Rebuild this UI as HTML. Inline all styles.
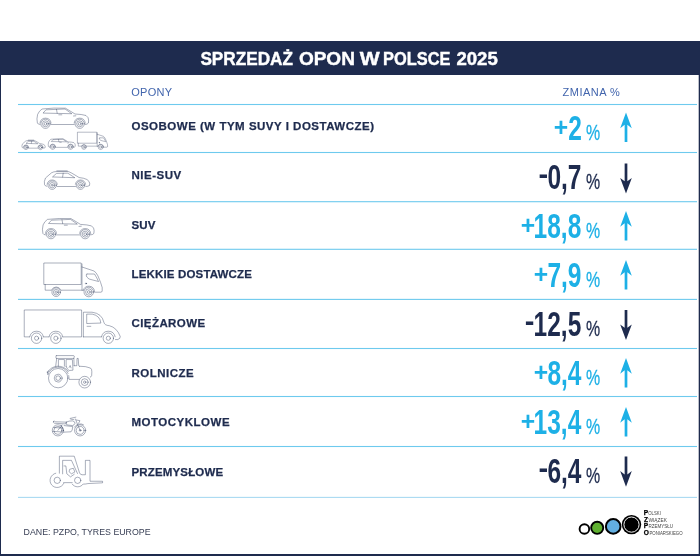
<!DOCTYPE html>
<html lang="pl">
<head>
<meta charset="utf-8">
<title>Sprzedaż opon w Polsce 2025</title>
<style>
html,body{margin:0;padding:0;background:#fff;}
body{width:700px;height:556px;position:relative;overflow:hidden;font-family:"Liberation Sans",sans-serif;}
#frame{position:absolute;left:0;top:41px;width:700px;height:515px;box-sizing:border-box;border-left:1px solid #1e2b4e;border-right:1px solid #1e2b4e;box-shadow:inset -1px 0 0 0 rgba(30,43,78,0.3);border-bottom:2px solid #1e2b4e;}
#bar{position:absolute;left:0;top:41px;width:700px;height:34px;background:#1e2b4e;}
#title{position:absolute;left:0;top:41px;font-family:"Liberation Sans",sans-serif;font-weight:bold;font-size:18.2px;fill:#fff;stroke:#fff;stroke-width:0.4px;}
.hd{position:absolute;top:84.5px;font-size:11px;line-height:14px;color:#4265ad;white-space:nowrap;}
.row{position:absolute;left:0;width:700px;height:49px;}
.lb{position:absolute;left:131.5px;top:15px;font-weight:bold;font-size:11.5px;line-height:14px;color:#1e2b4e;letter-spacing:0.5px;white-space:nowrap;-webkit-text-stroke:0.25px #1e2b4e;}
.num{position:absolute;right:118.6px;top:4.0px;font-weight:bold;font-size:35.6px;line-height:40px;white-space:nowrap;transform:scaleX(0.688);transform-origin:100% 50%;}
.sg{position:absolute;top:4px;font-weight:bold;line-height:40px;white-space:nowrap;transform-origin:100% 50%;}
.sg.p{font-size:26px;transform:scaleX(0.95);margin-top:-1.2px;margin-right:-0.2px}
.sg.m{font-size:29px;transform:scaleX(1.0);margin-top:-2.9px;margin-right:-0.5px}
.pc{position:absolute;left:586.2px;top:16.6px;font-size:22.6px;line-height:24px;white-space:nowrap;transform:scaleX(0.705);transform-origin:0 50%;-webkit-text-stroke:0.3px currentColor;}
.up{color:#1db0e6;}
.dn{color:#1e2b4e;}
.ar{position:absolute;left:615.7px;top:0;width:20px;height:49px;overflow:visible;}
#src{position:absolute;left:23.6px;top:526px;font-size:8.8px;line-height:12px;color:#394056;white-space:nowrap;}
</style>
</head>
<body>
<div id="frame"></div>
<div id="bar"></div>
<svg id="title" width="700" height="34" viewBox="0 41 700 34"><text y="64.8"><tspan x="200.4" textLength="92.6" lengthAdjust="spacingAndGlyphs">SPRZEDAŻ</tspan> <tspan x="298.9" textLength="56.0" lengthAdjust="spacingAndGlyphs">OPON</tspan> <tspan x="359.7" textLength="19.9" lengthAdjust="spacingAndGlyphs">W</tspan> <tspan x="383.1" textLength="67.4" lengthAdjust="spacingAndGlyphs">POLSCE</tspan> <tspan x="456.4" textLength="41.4" lengthAdjust="spacingAndGlyphs">2025</tspan></text></svg>
<div class="hd" style="left:131.2px;letter-spacing:0.3px">OPONY</div>
<div class="hd" style="left:562.6px;letter-spacing:0.5px">ZMIANA %</div>
<svg id="lines" width="700" height="556" viewBox="0 0 700 556" style="position:absolute;left:0;top:0"><rect x="18" y="103.95" width="679" height="1.1" fill="#6ecaee"/><rect x="18" y="151.95" width="679" height="1.1" fill="#6ecaee"/><rect x="18" y="201.15" width="679" height="1.1" fill="#6ecaee"/><rect x="18" y="248.75" width="679" height="1.1" fill="#6ecaee"/><rect x="18" y="298.85" width="679" height="1.1" fill="#6ecaee"/><rect x="18" y="347.95" width="679" height="1.1" fill="#6ecaee"/><rect x="18" y="395.95" width="679" height="1.1" fill="#6ecaee"/><rect x="18" y="445.95" width="679" height="1.1" fill="#6ecaee"/><rect x="18" y="496.85" width="679" height="1.1" fill="#a9daf2"/></svg>
<div class="row" style="top:104.0px"><div class="lb" style="top:15.0px;letter-spacing:0.5px">OSOBOWE (W TYM SUVY I DOSTAWCZE)</div><div class="sg p up" style="right:132.4px">+</div><div class="num up">2</div><div class="pc up">%</div><svg class="ar" viewBox="0 0 20 49"><path transform="translate(0 0)" fill="#1db0e6" d="M10 8.4 L15.8 24.2 L11.35 20.8 L11.35 38.0 L8.65 38.0 L8.65 20.8 L4.2 24.2 Z"/></svg></div>
<div class="row" style="top:153.0px"><div class="lb" style="top:15.0px;letter-spacing:0.5px">NIE-SUV</div><div class="sg m dn" style="right:152.3px">-</div><div class="num dn">0,7</div><div class="pc dn">%</div><svg class="ar" viewBox="0 0 20 49"><path transform="translate(0 0)" fill="#1e2b4e" d="M10 40.5 L15.8 24.9 L11.35 28.2 L11.35 10.4 L8.65 10.4 L8.65 28.2 L4.2 24.9 Z"/></svg></div>
<div class="row" style="top:202.0px"><div class="lb" style="top:15.6px;letter-spacing:0.1px">SUV</div><div class="sg p up" style="right:165.3px">+</div><div class="num up">18,8</div><div class="pc up">%</div><svg class="ar" viewBox="0 0 20 49"><path transform="translate(0 0.55)" fill="#1db0e6" d="M10 8.4 L15.8 24.2 L11.35 20.8 L11.35 38.0 L8.65 38.0 L8.65 20.8 L4.2 24.2 Z"/></svg></div>
<div class="row" style="top:251.0px"><div class="lb" style="top:16.0px;letter-spacing:0.16px">LEKKIE DOSTAWCZE</div><div class="sg p up" style="right:151.6px">+</div><div class="num up">7,9</div><div class="pc up">%</div><svg class="ar" viewBox="0 0 20 49"><path transform="translate(0 0.55)" fill="#1db0e6" d="M10 8.4 L15.8 24.2 L11.35 20.8 L11.35 38.0 L8.65 38.0 L8.65 20.8 L4.2 24.2 Z"/></svg></div>
<div class="row" style="top:300.0px"><div class="lb" style="top:16.3px;letter-spacing:0.42px">CIĘŻAROWE</div><div class="sg m dn" style="right:166.0px">-</div><div class="num dn">12,5</div><div class="pc dn">%</div><svg class="ar" viewBox="0 0 20 49"><path transform="translate(0 -0.4)" fill="#1e2b4e" d="M10 40.5 L15.8 24.9 L11.35 28.2 L11.35 10.4 L8.65 10.4 L8.65 28.2 L4.2 24.9 Z"/></svg></div>
<div class="row" style="top:349.0px"><div class="lb" style="top:17.0px;letter-spacing:0.48px">ROLNICZE</div><div class="sg p up" style="right:151.6px">+</div><div class="num up">8,4</div><div class="pc up">%</div><svg class="ar" viewBox="0 0 20 49"><path transform="translate(0 0.55)" fill="#1db0e6" d="M10 8.4 L15.8 24.2 L11.35 20.8 L11.35 38.0 L8.65 38.0 L8.65 20.8 L4.2 24.2 Z"/></svg></div>
<div class="row" style="top:398.0px"><div class="lb" style="top:17.0px;letter-spacing:0.5px">MOTOCYKLOWE</div><div class="sg p up" style="right:165.3px">+</div><div class="num up">13,4</div><div class="pc up">%</div><svg class="ar" viewBox="0 0 20 49"><path transform="translate(0 0.55)" fill="#1db0e6" d="M10 8.4 L15.8 24.2 L11.35 20.8 L11.35 38.0 L8.65 38.0 L8.65 20.8 L4.2 24.2 Z"/></svg></div>
<div class="row" style="top:447.0px"><div class="lb" style="top:17.8px;letter-spacing:0.15px">PRZEMYSŁOWE</div><div class="sg m dn" style="right:152.3px">-</div><div class="num dn">6,4</div><div class="pc dn">%</div><svg class="ar" viewBox="0 0 20 49"><path transform="translate(0 -0.8)" fill="#1e2b4e" d="M10 40.5 L15.8 24.9 L11.35 28.2 L11.35 10.4 L8.65 10.4 L8.65 28.2 L4.2 24.9 Z"/></svg></div>
<svg id="icons" width="700" height="556" viewBox="0 0 700 556" style="position:absolute;left:0;top:0" fill="none" stroke="#1e2b4e" stroke-width="0.38" stroke-linecap="round" stroke-linejoin="round"><path d="M40.00 124.50Q37.80 124.30 37.40 123.00Q36.40 119.00 37.60 114.50Q39.00 111.00 42.00 109.00Q54.00 107.60 65.50 108.20L75.00 114.00Q82.00 114.30 86.00 115.50Q88.80 117.50 88.60 120.00L88.40 123.00Q87.50 124.40 85.20 124.50"/><path d="M51.00 124.50L74.20 124.50"/><path d="M39.95 123.02A5.60 5.60 0 0 1 51.05 123.02"/><path d="M74.15 123.02A5.60 5.60 0 0 1 85.25 123.02"/><circle cx="45.50" cy="123.80" r="4.60"/><circle cx="45.50" cy="123.80" r="3.00"/><circle cx="45.50" cy="123.80" r="1.40"/><circle cx="79.70" cy="123.80" r="4.60"/><circle cx="79.70" cy="123.80" r="3.00"/><circle cx="79.70" cy="123.80" r="1.40"/><path d="M43.30 112.80L46.00 109.80L65.00 109.00L71.50 113.50Z"/><path d="M56.50 109.40L57.20 113.20"/><path d="M58.80 114.80L61.80 114.80"/><path d="M73.50 116.00L75.80 115.80"/><path d="M45.50 234.90Q43.30 234.70 42.90 233.40Q41.90 229.40 43.10 224.90Q44.50 221.40 47.50 219.40Q59.50 218.00 71.00 218.60L80.50 224.40Q87.50 224.70 91.50 225.90Q94.30 227.90 94.10 230.40L93.90 233.40Q93.00 234.80 90.70 234.90"/><path d="M56.50 234.90L79.70 234.90"/><path d="M45.45 233.42A5.60 5.60 0 0 1 56.55 233.42"/><path d="M79.65 233.42A5.60 5.60 0 0 1 90.75 233.42"/><circle cx="51.00" cy="234.20" r="4.60"/><circle cx="51.00" cy="234.20" r="3.00"/><circle cx="51.00" cy="234.20" r="1.40"/><circle cx="85.20" cy="234.20" r="4.60"/><circle cx="85.20" cy="234.20" r="3.00"/><circle cx="85.20" cy="234.20" r="1.40"/><path d="M48.80 223.20L51.50 220.20L70.50 219.40L77.00 223.90Z"/><path d="M62.00 219.80L62.70 223.60"/><path d="M64.30 225.20L67.30 225.20"/><path d="M79.00 226.40L81.30 226.20"/><path d="M46.80 186.30Q44.80 186.00 44.50 184.50Q43.80 181.50 45.50 178.00L51.50 172.80Q53.50 171.60 56.50 171.50L68.00 171.50Q70.00 171.80 79.00 177.50Q84.00 178.00 87.00 179.50Q89.80 181.50 89.70 183.50L89.50 185.50Q88.00 186.50 85.80 186.50"/><path d="M57.20 186.50L75.50 186.50"/><path d="M47.08 184.30A5.20 5.20 0 0 1 57.32 184.30"/><path d="M75.38 184.30A5.20 5.20 0 0 1 85.62 184.30"/><circle cx="52.20" cy="185.20" r="4.20"/><circle cx="52.20" cy="185.20" r="2.70"/><circle cx="52.20" cy="185.20" r="1.00"/><circle cx="80.50" cy="185.20" r="4.20"/><circle cx="80.50" cy="185.20" r="2.70"/><circle cx="80.50" cy="185.20" r="1.00"/><path d="M52.80 176.70L56.50 173.40L67.80 173.20L74.50 177.50Z"/><path d="M63.20 173.20L62.60 177.00"/><path d="M56.80 170.80L67.20 170.80"/><g stroke-width="0.33"><path d="M23.23 148.06Q22.20 147.91 22.05 147.14Q21.69 145.60 22.56 143.81L25.64 141.14Q26.67 140.52 28.21 140.47L34.11 140.47Q35.13 140.63 39.75 143.55Q42.31 143.81 43.85 144.58Q45.29 145.60 45.24 146.63L45.13 147.65Q44.37 148.17 43.24 148.17"/><path d="M28.57 148.17L37.95 148.17"/><path d="M23.37 147.04A2.67 2.67 0 0 1 28.63 147.04"/><path d="M37.89 147.04A2.67 2.67 0 0 1 43.14 147.04"/><circle cx="26.00" cy="147.50" r="2.15"/><circle cx="26.00" cy="147.50" r="1.03"/><circle cx="40.52" cy="147.50" r="2.15"/><circle cx="40.52" cy="147.50" r="1.03"/><path d="M26.31 143.14L28.21 141.45L34.00 141.34L37.44 143.55Z"/><path d="M31.64 141.34L31.34 143.29"/><path d="M28.36 140.11L33.70 140.11"/></g><g stroke-width="0.33"><path d="M49.82 147.37Q48.67 147.26 48.46 146.58Q47.94 144.49 48.57 142.14Q49.30 140.31 50.87 139.26Q57.15 138.53 63.16 138.84L68.13 141.87Q71.79 142.03 73.88 142.66Q75.35 143.71 75.24 145.01L75.14 146.58Q74.67 147.31 73.46 147.37"/><path d="M55.58 147.37L67.71 147.37"/><path d="M49.80 146.59A2.93 2.93 0 0 1 55.60 146.59"/><path d="M67.69 146.59A2.93 2.93 0 0 1 73.49 146.59"/><circle cx="52.70" cy="147.00" r="2.41"/><circle cx="52.70" cy="147.00" r="1.15"/><circle cx="70.59" cy="147.00" r="2.41"/><circle cx="70.59" cy="147.00" r="1.15"/><path d="M51.55 141.25L52.96 139.68L62.90 139.26L66.30 141.61Z"/><path d="M58.45 139.47L58.82 141.46"/><path d="M59.66 142.29L61.22 142.29"/><path d="M67.34 142.92L68.55 142.82"/></g><path d="M44.20 263.00L81.20 263.00L81.20 284.50L44.20 284.50Z"/><path d="M45.20 284.50L45.20 290.20L51.20 290.20"/><path d="M61.20 290.20L83.00 290.20"/><path d="M82.00 264.00L82.00 290.20"/><path d="M82.00 267.00L94.00 271.00Q96.00 272.00 98.00 276.00Q101.00 283.00 102.20 287.50L102.20 291.00Q102.00 292.20 100.80 292.20L94.60 292.20"/><path d="M87.00 274.00L94.50 274.00Q97.00 278.00 98.50 281.50L89.00 279.00Q86.00 277.00 86.20 275.00Q86.30 274.00 87.00 274.00"/><path d="M51.49 290.00A5.20 5.20 0 0 1 60.91 290.00"/><path d="M83.20 290.50A5.80 5.80 0 0 1 94.58 291.49"/><circle cx="56.20" cy="292.20" r="4.30"/><circle cx="88.80" cy="292.00" r="4.80"/><circle cx="56.20" cy="292.20" r="2.80"/><circle cx="56.20" cy="292.20" r="1.20"/><circle cx="88.80" cy="292.00" r="3.20"/><circle cx="88.80" cy="292.00" r="1.40"/><circle cx="86.00" cy="283.50" r="0.60"/><g stroke-width="0.33"><path d="M77.80 132.20L96.78 132.20L96.78 143.23L77.80 143.23Z"/><path d="M78.31 143.23L78.31 146.15L81.39 146.15"/><path d="M86.52 146.15L97.70 146.15"/><path d="M97.19 132.71L97.19 146.15"/><path d="M97.19 134.25L103.35 136.30Q104.37 136.82 105.40 138.87Q106.94 142.46 107.55 144.77L107.55 146.56Q107.45 147.18 106.84 147.18L103.66 147.18"/><path d="M99.76 137.84L103.60 137.84Q104.89 139.89 105.66 141.69L100.78 140.41Q99.24 139.38 99.35 138.36Q99.40 137.84 99.76 137.84"/><path d="M81.54 146.05A2.67 2.67 0 0 1 86.37 146.05"/><path d="M97.81 146.31A2.98 2.98 0 0 1 103.64 146.82"/><circle cx="83.96" cy="147.18" r="2.21"/><circle cx="100.68" cy="147.08" r="2.46"/><circle cx="83.96" cy="147.18" r="1.03"/><circle cx="100.68" cy="147.08" r="1.13"/><circle cx="99.24" cy="142.72" r="0.31"/></g><path d="M29.59 336.88L24.24 336.88L24.24 309.98L81.60 309.98L81.60 336.88L62.87 336.88"/><path d="M43.56 336.88L48.91 336.88"/><path d="M83.38 336.88L83.38 312.21L92.00 312.21Q101.95 313.40 103.88 322.32Q104.48 325.29 109.38 325.73Q116.81 327.52 120.23 336.43Q120.53 338.66 117.85 339.55L115.47 339.55"/><path d="M83.38 336.88L101.51 336.88"/><path d="M87.09 314.14L92.29 314.14Q100.02 315.63 100.91 323.06L87.09 323.51Z"/><path d="M87.09 326.33L90.81 326.33"/><path d="M29.74 336.76A6.98 6.98 0 0 1 43.40 336.76"/><circle cx="36.57" cy="338.22" r="5.20"/><circle cx="36.57" cy="338.22" r="2.08"/><path d="M49.06 336.76A6.98 6.98 0 0 1 62.72 336.76"/><circle cx="55.89" cy="338.22" r="5.20"/><circle cx="55.89" cy="338.22" r="2.08"/><path d="M101.51 336.76A6.98 6.98 0 0 1 115.17 336.76"/><circle cx="108.34" cy="338.22" r="5.20"/><circle cx="108.34" cy="338.22" r="2.08"/><circle cx="58.17" cy="378.14" r="9.68"/><circle cx="58.17" cy="378.14" r="3.94"/><circle cx="58.17" cy="378.14" r="2.31"/><circle cx="84.73" cy="382.16" r="5.83"/><circle cx="84.73" cy="382.16" r="3.43"/><circle cx="84.73" cy="382.16" r="1.20"/><path d="M47.86 374.38A10.97 10.97 0 0 1 68.11 373.50"/><path d="M47.42 372.42A12.17 12.17 0 0 1 68.37 371.51"/><path d="M47.88 374.37L47.28 372.14"/><path d="M47.28 372.14L48.57 371.02"/><path d="M56.28 355.60L73.59 355.60Q74.45 355.77 74.28 356.71L73.85 358.43L56.28 358.43Q55.25 357.14 56.28 355.60"/><path d="M56.71 358.43L55.68 366.14"/><path d="M73.85 358.43L74.10 365.71"/><path d="M58.42 366.14L58.42 359.54L64.42 359.54L64.42 366.14"/><path d="M66.14 366.57L66.14 359.54L72.39 359.54L72.99 370.17L69.13 370.51Q66.99 369.14 66.14 366.57"/><path d="M69.13 367.42L70.16 365.54L71.02 367.85"/><path d="M74.10 365.71L76.85 365.71L77.02 358.43L78.22 358.43L78.73 365.71L79.42 366.22"/><path d="M79.42 366.22Q86.27 366.14 90.56 368.11Q91.93 369.14 91.84 371.71L91.67 375.56Q91.41 376.85 90.39 377.11"/><path d="M68.71 375.56L69.13 379.42L78.99 379.42"/><circle cx="57.86" cy="430.36" r="5.57"/><circle cx="57.86" cy="430.36" r="4.00"/><circle cx="80.14" cy="430.36" r="5.57"/><circle cx="80.14" cy="430.36" r="4.00"/><circle cx="80.14" cy="430.36" r="0.86"/><path d="M53.00 431.43L63.71 432.00"/><path d="M53.71 427.57L62.86 428.00"/><path d="M53.43 421.29Q52.50 422.14 54.29 423.21L65.71 423.93Q66.43 422.86 66.07 422.14L55.71 421.79Q54.29 420.71 53.43 421.29"/><path d="M66.43 422.00Q69.29 420.71 72.50 420.86Q75.36 421.79 75.00 423.21Q74.29 425.36 72.50 425.57L66.79 424.86Q65.86 423.57 66.43 422.00"/><path d="M64.14 425.57L72.71 426.57Q72.50 430.71 71.07 431.79L64.14 432.14"/><path d="M61.07 425.00L63.71 430.71"/><path d="M62.14 425.00L57.86 430.36"/><path d="M70.14 418.43L75.86 417.14"/><path d="M70.71 419.14L73.93 419.64"/><path d="M75.36 418.93L77.50 424.29L80.14 430.36"/><path d="M76.43 420.00L80.00 420.71L78.57 423.21"/><path d="M74.45 427.07A6.57 6.57 0 0 1 83.43 424.67"/><path d="M59.39 473.17L59.39 456.18L74.25 456.18L79.54 472.89Q80.28 474.75 82.14 474.75L85.39 474.75L85.39 460.36L90.03 460.36L90.03 481.25L102.57 481.25L102.57 482.83L87.90 483.57Q85.85 484.13 83.81 484.13"/><path d="M83.16 484.15A6.69 6.69 0 0 1 72.21 484.15"/><path d="M72.21 482.64L63.57 482.64"/><path d="M63.82 483.38A7.24 7.24 0 1 1 55.75 473.24"/><circle cx="57.26" cy="480.32" r="3.16"/><circle cx="77.68" cy="480.32" r="3.16"/><path d="M62.64 473.82L62.64 460.36L71.46 460.36L77.50 473.54"/><path d="M64.03 465.93L65.89 465.93L66.82 473.82L70.53 476.88L74.25 474.28"/><path d="M70.07 469.18L73.32 468.25L74.90 471.96L71.46 473.82L69.33 471.96Z"/></svg>
<div id="src">DANE: PZPO, TYRES EUROPE</div>
<svg id="logo" width="130" height="46" viewBox="570 504 130 46" style="position:absolute;left:570px;top:504px;overflow:visible;font-family:'Liberation Sans',sans-serif">
<circle cx="584.4" cy="529.0" r="4.8" fill="#fff" stroke="#000" stroke-width="1.9"/>
<circle cx="597.2" cy="527.8" r="6.05" fill="#5fb030" stroke="#000" stroke-width="1.9"/>
<circle cx="613.2" cy="526.4" r="7.3" fill="#62aee0" stroke="#000" stroke-width="2"/>
<circle cx="631.5" cy="524.6" r="9.7" fill="#000"/>
<circle cx="631.5" cy="524.6" r="7.6" fill="none" stroke="#fff" stroke-width="0.95"/>
<g font-size="4.5" fill="#444">
<text y="514.9"><tspan x="643.7" font-size="6.6" font-weight="bold" fill="#000" stroke="#000" stroke-width="0.25">P</tspan><tspan x="648.3" textLength="12.6" lengthAdjust="spacingAndGlyphs">OLSKI</tspan></text>
<text y="521.5"><tspan x="643.9" font-size="6.6" font-weight="bold" fill="#000" stroke="#000" stroke-width="0.25">Z</tspan><tspan x="648.4" textLength="18.5" lengthAdjust="spacingAndGlyphs">WIĄZEK</tspan></text>
<text y="528.0"><tspan x="643.7" font-size="6.6" font-weight="bold" fill="#000" stroke="#000" stroke-width="0.25">P</tspan><tspan x="648.5" textLength="24.5" lengthAdjust="spacingAndGlyphs">RZEMYSŁU</tspan></text>
<text y="534.8"><tspan x="643.8" font-size="6.6" font-weight="bold" fill="#000" stroke="#000" stroke-width="0.25">O</tspan><tspan x="649.4" textLength="33.2" lengthAdjust="spacingAndGlyphs">PONIARSKIEGO</tspan></text>
</g>
</svg>

</body>
</html>
